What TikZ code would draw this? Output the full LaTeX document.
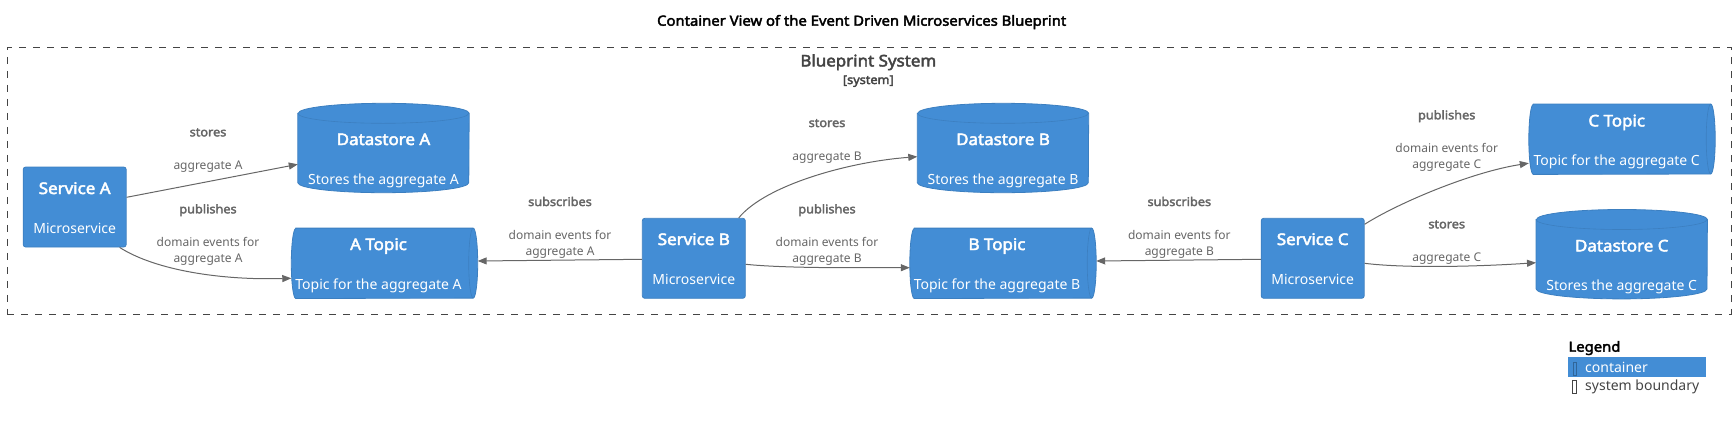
\documentclass[tikz,border=0pt]{standalone}
\usepackage{fontspec}
\setmainfont{Noto Sans}[BoldFont={Noto Sans}, BoldFeatures={FakeBold=2.8, FakeStretch=1.06}]
\usetikzlibrary{arrows.meta}
\definecolor{c4blue}{HTML}{438DD5}
\definecolor{c4border}{HTML}{3C7FC0}
\definecolor{relgray}{HTML}{666666}
\definecolor{bndgray}{HTML}{444444}
\tikzset{
  container/.style={rectangle, rounded corners=2.5pt, fill=c4blue, draw=c4border, line width=0.8pt, inner sep=0pt, minimum width=103pt, minimum height=80pt},
  dbholder/.style={rectangle, inner sep=0pt, draw=none, minimum width=171pt, minimum height=89pt},
  qholder/.style={rectangle, inner sep=0pt, draw=none, minimum width=186pt, minimum height=70pt},
  shapefill/.style={fill=c4blue, draw=c4border, line width=0.8pt},
  eltitle/.style={anchor=base, text=white, font=\fontsize{16}{19}\selectfont\bfseries, inner sep=0pt},
  eldesc/.style={anchor=base, text=white, font=\fontsize{14}{17}\selectfont, inner sep=0pt},
  reltitle/.style={anchor=base, text=relgray, font=\fontsize{12}{14}\selectfont\bfseries, inner sep=0pt},
  reldesc/.style={anchor=base, text=relgray, font=\fontsize{12}{14}\selectfont, inner sep=0pt},
  rel/.style={draw=relgray, line width=1pt, -{Triangle[length=9pt,width=7pt]}},
  boundary/.style={rectangle, draw=bndgray, line width=1pt, dash pattern=on 7pt off 7pt, inner sep=0pt},
}
\newcommand{\dbshape}[1]{%
  \path[shapefill] ([yshift=-10pt]#1.north west) -- ([yshift=10pt]#1.south west)
     arc[start angle=180,end angle=360,x radius=85.5pt,y radius=10pt]
     -- ([yshift=-10pt]#1.north east)
     arc[start angle=0,end angle=180,x radius=85.5pt,y radius=10pt] -- cycle;
  \draw[c4border, line width=0.6pt] ([yshift=-10pt]#1.north west)
     arc[start angle=180,end angle=360,x radius=85.5pt,y radius=10pt];
}
\newcommand{\queueshape}[1]{%
  \path[shapefill] ([xshift=4.5pt]#1.north west) -- ([xshift=-4.5pt]#1.north east)
    arc[start angle=90,end angle=-90,x radius=4.5pt,y radius=35pt]
    -- ([xshift=4.5pt]#1.south west)
    arc[start angle=270,end angle=90,x radius=4.5pt,y radius=35pt] -- cycle;
  \draw[c4border, line width=0.6pt] ([xshift=-4.5pt]#1.north east)
    arc[start angle=90,end angle=270,x radius=4.5pt,y radius=35pt];
}
\begin{document}
\begin{tikzpicture}[x=1pt,y=-1pt]
\useasboundingbox (0,0) rectangle (1736,421);

% title
\node[anchor=base, font=\fontsize{14}{17}\selectfont\bfseries, inner sep=0pt] (title) at (861.7,25.7) {Container View of the Event Driven Microservices Blueprint};

% system boundary
\node[boundary, minimum width=1723.7pt, minimum height=267pt] (sys) at (869.2,180.8) {};
\node[anchor=base, text=bndgray, font=\fontsize{16}{19}\selectfont\bfseries, inner sep=0pt] (systitle) at (868.3,66.4) {Blueprint System};
\node[anchor=base, text=bndgray, font=\fontsize{12}{14}\selectfont\bfseries, inner sep=0pt] (systype) at (868.3,84) {[system]};

% services
\node[container] (sa) at (74.7,207) {};
\node[container] (sb) at (693.8,258.3) {};
\node[container] (sc) at (1312.7,258.3) {};

% datastores
\node[dbholder] (dsa) at (383.5,148) {};
\node[dbholder] (dsb) at (1003,148) {};
\node[dbholder] (dsc) at (1621.7,254.2) {};
\dbshape{dsa}
\dbshape{dsb}
\dbshape{dsc}

% topics
\node[qholder] (at) at (384.5,263.3) {};
\node[qholder] (bt) at (1003,263.3) {};
\node[qholder] (ct) at (1622,139.2) {};
\queueshape{at}
\queueshape{bt}
\queueshape{ct}

% element texts
\node[eltitle] (sa-t) at (74.7,194) {Service A};
\node[eldesc]  (sa-d) at (74.7,233.3) {Microservice};
\node[eltitle] (sb-t) at (693.8,245) {Service B};
\node[eldesc]  (sb-d) at (693.8,284) {Microservice};
\node[eltitle] (sc-t) at (1312.7,245) {Service C};
\node[eldesc]  (sc-d) at (1312.7,284) {Microservice};

\node[eltitle] (dsa-t) at (383.5,145) {Datastore A};
\node[eldesc]  (dsa-d) at (383.5,184.3) {Stores the aggregate A};
\node[eltitle] (dsb-t) at (1003,145) {Datastore B};
\node[eldesc]  (dsb-d) at (1003,184.3) {Stores the aggregate B};
\node[eltitle] (dsc-t) at (1621.7,251.4) {Datastore C};
\node[eldesc]  (dsc-d) at (1621.7,290) {Stores the aggregate C};

\node[eltitle] (at-t) at (378.5,250) {A Topic};
\node[eldesc]  (at-d) at (378.5,289.3) {Topic for the aggregate A};
\node[eltitle] (bt-t) at (997,250) {B Topic};
\node[eldesc]  (bt-d) at (997,289.3) {Topic for the aggregate B};
\node[eltitle] (ct-t) at (1616.7,126.4) {C Topic};
\node[eldesc]  (ct-d) at (1616.7,165) {Topic for the aggregate C};

% connectors
\draw[rel] ([yshift=9.7pt]sa.east) -- ([yshift=-16.3pt]dsa.west);
\draw[rel] ([xshift=-7pt]sa.south east) .. controls +(36,23) and +(-70,2) .. ([yshift=-15pt]at.west);
\draw[rel] ([yshift=-1pt]sb.west) -- ([yshift=2.3pt]at.east);
\draw[rel] ([xshift=-7pt]sb.north east) .. controls +(27,-33) and +(-68,5) .. ([yshift=-8.7pt]dsb.west);
\draw[rel] ([yshift=-6pt]sb.east) .. controls +(40,4) and +(-60,0) .. ([yshift=-4.4pt]bt.west);
\draw[rel] ([yshift=-1pt]sc.west) -- ([yshift=2.3pt]bt.east);
\draw[rel] ([yshift=34pt]sc.east) .. controls +(33,-21) and +(-58,9) .. ([yshift=-24pt]ct.west);
\draw[rel] ([yshift=-5pt]sc.east) .. controls +(40,5) and +(-60,4) .. ([yshift=-8.5pt]dsc.west);

% connector labels
\node[reltitle] (l1t) at (208,136.3) {stores};
\node[reldesc]  (l1a) at (208,169.3) {aggregate A};
\node[reltitle] (l2t) at (208,213.3) {publishes};
\node[reldesc]  (l2a) at (208,246) {domain events for};
\node[reldesc]  (l2b) at (208,262.6) {aggregate A};
\node[reltitle] (l3t) at (560,206) {subscribes};
\node[reldesc]  (l3a) at (560,239) {domain events for};
\node[reldesc]  (l3b) at (560,255.6) {aggregate A};
\node[reltitle] (l4t) at (827,127) {stores};
\node[reldesc]  (l4a) at (827,160.3) {aggregate B};
\node[reltitle] (l5t) at (827,213.3) {publishes};
\node[reldesc]  (l5a) at (827,246) {domain events for};
\node[reldesc]  (l5b) at (827,262.6) {aggregate B};
\node[reltitle] (l6t) at (1179.3,206) {subscribes};
\node[reldesc]  (l6a) at (1179.3,239) {domain events for};
\node[reldesc]  (l6b) at (1179.3,255.6) {aggregate B};
\node[reltitle] (l7t) at (1446.7,119.3) {publishes};
\node[reldesc]  (l7a) at (1446.7,152) {domain events for};
\node[reldesc]  (l7b) at (1446.7,168.6) {aggregate C};
\node[reltitle] (l8t) at (1446.7,228.3) {stores};
\node[reldesc]  (l8a) at (1446.7,261.6) {aggregate C};

% legend
\node[anchor=base west, font=\fontsize{14}{17}\selectfont\bfseries, inner sep=0pt] (leg) at (1568.3,351.7) {Legend};
\node[rectangle, fill=c4blue, inner sep=0pt, minimum width=138.3pt, minimum height=19.4pt] (legbox) at (1636.9,367) {};
\node[rectangle, draw=c4border!80!black, line width=0.6pt, inner sep=0pt, minimum width=3.4pt, minimum height=13pt] (legg1) at (1575,368.3) {};
\node[anchor=base west, text=white, font=\fontsize{14}{17}\selectfont, inner sep=0pt] (legc) at (1585,372.3) {container};
\node[rectangle, draw=bndgray, line width=0.6pt, inner sep=0pt, minimum width=3.3pt, minimum height=12.6pt] (legg2) at (1574.4,387) {};
\node[anchor=base west, text=bndgray, font=\fontsize{14}{17}\selectfont, inner sep=0pt] (legs) at (1585,390.7) {system boundary};
\end{tikzpicture}
\end{document}
